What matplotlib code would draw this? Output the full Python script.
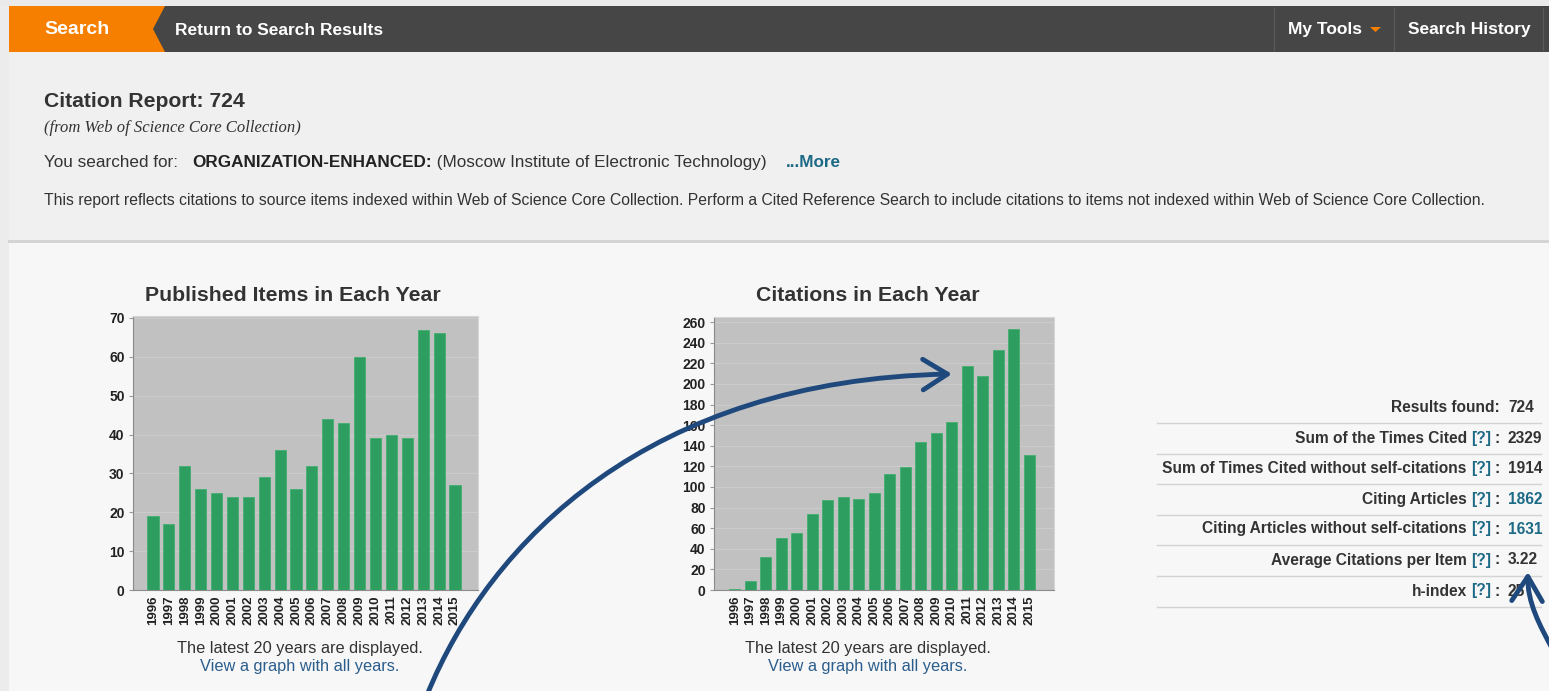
import matplotlib
matplotlib.use("Agg")
import numpy as np
import matplotlib.pyplot as plt
from matplotlib.patches import Polygon, Rectangle, FancyArrowPatch
from matplotlib.path import Path

W, H = 1549, 691
plt.rcParams['font.family'] = ['Liberation Sans', 'DejaVu Sans']

# chart data
years = [str(y) for y in range(1996, 2016)]
published = [19, 17, 32, 26, 25, 24, 24, 29, 36, 26, 32, 44, 43, 60, 39, 40, 39, 67, 66, 27]
citations = [1, 9, 32, 50, 55, 74, 87, 90, 88, 94, 113, 119, 144, 152, 163, 217, 208, 233, 253, 131]

stat_labels = ["Results found", "Sum of the Times Cited", "Sum of Times Cited without self-citations",
               "Citing Articles", "Citing Articles without self-citations",
               "Average Citations per Item", "h-index"]
stat_values = ["724", "2329", "1914", "1862", "1631", "3.22", "25"]
stat_help = [False, True, True, True, True, True, True]
stat_link = [False, False, False, True, True, False, False]

DARK = '#333333'
LINK = '#1d6a86'
NAVY = '#1f497d'
GREEN = '#2e9e60'

fig = plt.figure(figsize=(W / 100, H / 100), dpi=100)
fig.patch.set_facecolor('#f7f7f7')

# background layer in pixel coordinates
bg = fig.add_axes([0, 0, 1, 1], zorder=0)
bg.set_xlim(0, W)
bg.set_ylim(H, 0)
bg.axis('off')
bg.add_patch(Rectangle((0, 0), W, 240, color='#f0f0f0', lw=0))
bg.add_patch(Rectangle((0, 0), 9, H, color='#ececec', lw=0))
bg.add_patch(Rectangle((0, 0), W, 6, color='#eaeaea', lw=0))
bg.plot([9, W], [241, 241], color='#d2d2d2', lw=2)

# top navigation bar
bg.add_patch(Rectangle((9, 6), W - 9, 46, color='#464646', lw=0))
bg.add_patch(Polygon([(9, 6), (165, 6), (153, 29), (165, 52), (9, 52)], closed=True,
                     color='#f77f00', lw=0))
for sx in [1274, 1394, 1543]:
    bg.plot([sx, sx], [8, 50], color='#5a5a5a', lw=1)
bg.text(44, 29, "Search", color='white', fontsize=14, fontweight='bold', va='center')
bg.text(175, 30, "Return to Search Results", color='white', fontsize=12.5, fontweight='bold', va='center')
bg.text(1288, 29, "My Tools", color='white', fontsize=12.5, fontweight='bold', va='center')
bg.add_patch(Polygon([(1370, 27), (1381, 27), (1375.5, 32)], closed=True, color='#f77f00', lw=0))
bg.text(1408, 29, "Search History", color='white', fontsize=12.5, fontweight='bold', va='center')

# report header
bg.text(44, 101, "Citation Report: 724", color=DARK, fontsize=15.2, fontweight='bold', va='center')
bg.text(44, 128, "(from Web of Science Core Collection)", color=DARK, fontsize=12,
        family=['Liberation Serif', 'DejaVu Serif'], style='italic', va='center')

renderer = fig.canvas.get_renderer()


def width_of(t):
    return t.get_window_extent(renderer=renderer).width


x = 44
pieces = [("You searched for:   ", 'normal', DARK), ("ORGANIZATION-ENHANCED:", 'bold', '#222222'),
          (" (Moscow Institute of Electronic Technology)    ", 'normal', DARK), ("...More", 'bold', LINK)]
for txt, wt, col in pieces:
    t = bg.text(x, 162, txt, fontsize=12.3, fontweight=wt, color=col, va='center')
    x += width_of(t)

bg.text(44, 200, "This report reflects citations to source items indexed within Web of Science Core Collection. "
        "Perform a Cited Reference Search to include citations to items not indexed within Web of Science "
        "Core Collection.", fontsize=11.3, color=DARK, va='center')


def px_axes(x0, y0, x1, y1):
    return fig.add_axes([x0 / W, 1 - y1 / H, (x1 - x0) / W, (y1 - y0) / H], zorder=2)


def bar_chart(ax, values, ymax, step, xlim):
    xs = np.arange(len(years))
    ax.set_facecolor('#c1c1c1')
    for yv in np.arange(step, ymax, step):
        ax.axhline(yv, color='#cbcbcb', lw=0.8, zorder=1)
    ax.bar(xs, values, width=0.7, color=GREEN, edgecolor='#43b070', linewidth=0.6, zorder=3)
    ax.set_xlim(*xlim)
    ax.set_ylim(0, ymax)
    ax.set_yticks(np.arange(0, ymax, step))
    ax.set_xticks(xs)
    ax.set_xticklabels(years, rotation=90)
    ax.tick_params(axis='x', length=0, pad=4, labelsize=9.5, labelcolor='#222222')
    ax.tick_params(axis='y', length=3, pad=3, labelsize=10, labelcolor='#222222', color='#999999')
    for lab in ax.get_xticklabels() + ax.get_yticklabels():
        lab.set_fontweight('bold')
    for side in ['left', 'bottom']:
        ax.spines[side].set_color('#8a8a8a')
    for side in ['top', 'right']:
        ax.spines[side].set_color('#d6d6d6')


ax1 = px_axes(133, 316, 478, 590)
bar_chart(ax1, published, 70.5, 10, (-1.26, 20.45))
ax2 = px_axes(714, 317, 1054, 590)
bar_chart(ax2, citations, 265, 20, (-1.35, 20.6))

for cx, title in [(293, "Published Items in Each Year"), (868, "Citations in Each Year")]:
    bg.text(cx, 295, title, ha='center', va='center', fontsize=15.3, fontweight='bold', color=DARK)
for cx in [300, 868]:
    bg.text(cx, 649, "The latest 20 years are displayed.", ha='center', va='center', fontsize=11.8, color=DARK)
    bg.text(cx, 667, "View a graph with all years.", ha='center', va='center', fontsize=11.8, color='#2b5d8c')

# stats panel
row_y = [407, 438, 468, 499, 529, 560, 591]
fs = 11.2
for i, y in enumerate(row_y):
    xr = 1500
    if stat_help[i]:
        t = bg.text(xr, y, ":", ha='right', va='center', fontsize=fs, fontweight='bold', color=DARK)
        xr -= width_of(t) + 4
        t = bg.text(xr, y, "[?]", ha='right', va='center', fontsize=fs, fontweight='bold', color=LINK)
        xr -= width_of(t) + 4
        bg.text(xr, y, stat_labels[i], ha='right', va='center', fontsize=fs, fontweight='bold', color=DARK)
    else:
        bg.text(xr, y, stat_labels[i] + ":", ha='right', va='center', fontsize=fs, fontweight='bold', color=DARK)
    bg.text(1508, y, stat_values[i], ha='left', va='center', fontsize=fs, fontweight='bold',
            color=LINK if stat_link[i] else DARK)
    bg.plot([1157, 1541], [y + 15.5, y + 15.5], color='#d3d3d3', lw=1)

# annotation arrows on top of everything
ov = fig.add_axes([0, 0, 1, 1], zorder=10)
ov.set_xlim(0, W)
ov.set_ylim(H, 0)
ov.axis('off')
ov.patch.set_alpha(0)
codes = [Path.MOVETO, Path.CURVE4, Path.CURVE4, Path.CURVE4]
p1 = Path([(427, 695), (490, 540), (650, 380), (952, 374)], codes)
p2 = Path([(1553, 650), (1540, 626), (1527, 602), (1528, 572)], codes)
for p in [p1, p2]:
    ov.add_patch(FancyArrowPatch(path=p, arrowstyle='->,head_length=0.8,head_width=0.5',
                                 mutation_scale=22, lw=3.5, color=NAVY, capstyle='round',
                                 joinstyle='round'))

fig.savefig("out.png", dpi=100, facecolor=fig.get_facecolor())
